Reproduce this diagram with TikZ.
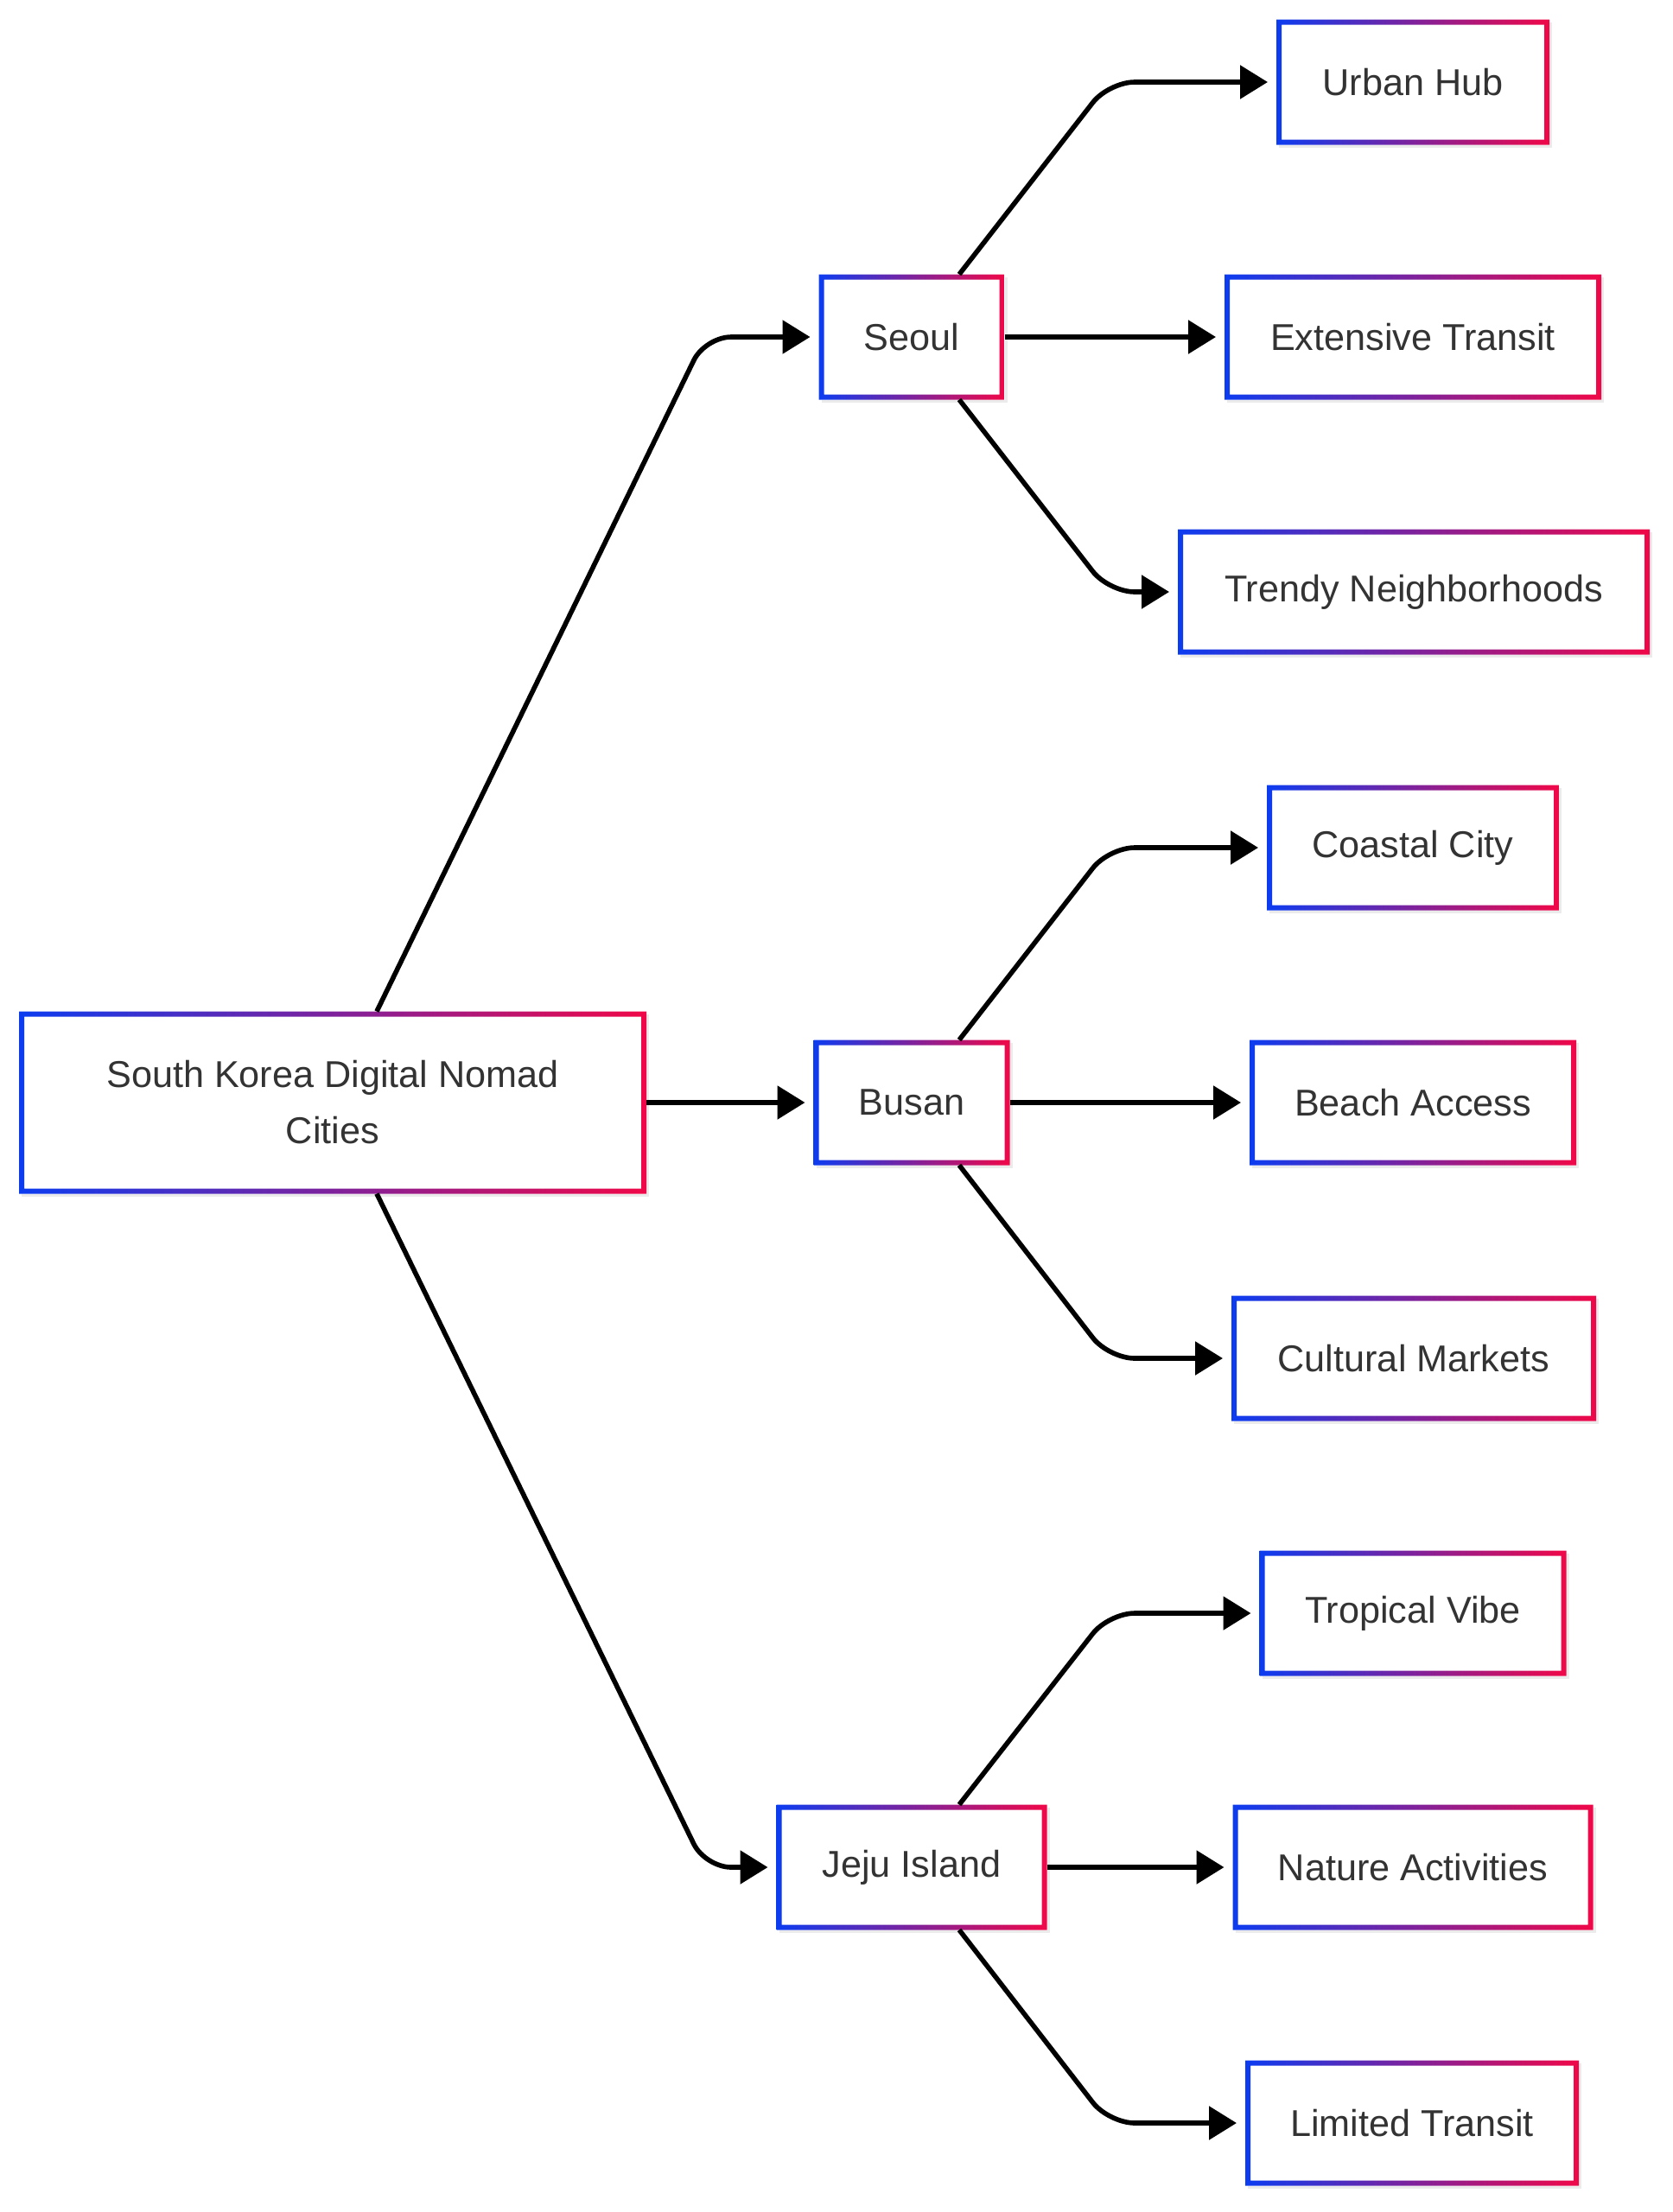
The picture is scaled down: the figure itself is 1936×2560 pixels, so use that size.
\documentclass[tikz,border=0pt]{standalone}
\usepackage{fontspec}
\setmainfont{Liberation Sans}
\usetikzlibrary{arrows.meta,shadows}
\definecolor{gblue}{RGB}{12,60,240}
\definecolor{gred}{RGB}{240,8,72}
\definecolor{txt}{RGB}{51,51,51}
\tikzset{
 box/.style={rectangle, fill=white, draw=none, outer sep=0pt, inner sep=0pt, minimum height=72.5pt, text=txt, font=\fontsize{21.6}{32.5}\selectfont, align=center, drop shadow={shadow xshift=1.5pt, shadow yshift=-1.5pt, opacity=0.08, fill=black}},
 conn/.style={draw=black, line width=2.8pt, -{Triangle[length=16pt,width=19pt]}, shorten >=5pt, rounded corners=15pt},
}
\begin{document}
\begin{tikzpicture}[x=0.5pt,y=-0.5pt]
\useasboundingbox (0,0) rectangle (1936,2560);
\node[box, minimum width=363pt, minimum height=105.5pt] (root) at (385,1276) {South Korea Digital Nomad\\Cities};
\node[box, minimum width=107.5pt] (seoul) at (1055,390) {Seoul};
\node[box, minimum width=113.5pt] (busan) at (1055,1276) {Busan};
\node[box, minimum width=156.5pt] (jeju) at (1055,2161) {Jeju Island};
\node[box, minimum width=158pt] (urban) at (1635,95) {Urban Hub};
\node[box, minimum width=218pt] (ext) at (1635,390) {Extensive Transit};
\node[box, minimum width=273pt] (trendy) at (1636,685) {Trendy Neighborhoods};
\node[box, minimum width=169pt] (coastal) at (1635,981) {Coastal City};
\node[box, minimum width=189pt] (beach) at (1635,1276) {Beach Access};
\node[box, minimum width=211pt] (cultural) at (1636,1572) {Cultural Markets};
\node[box, minimum width=177.5pt] (tropical) at (1635,1867) {Tropical Vibe};
\node[box, minimum width=208.5pt] (nature) at (1635,2161) {Nature Activities};
\node[box, minimum width=193pt] (limited) at (1634,2457) {Limited Transit};
\foreach \n in {root,seoul,busan,jeju,urban,ext,trendy,coastal,beach,cultural,tropical,nature,limited}{
 \shade[left color=gblue, right color=gred, even odd rule] (\n.south west) rectangle (\n.north east) ([shift={(3pt,3pt)}]\n.south west) rectangle ([shift={(-3pt,-3pt)}]\n.north east);
}
\coordinate (c1) at (816,0);
\coordinate (c2) at (1283,0);
\draw[conn] ([xshift=25.5pt]root.north) -- (c1 |- seoul.west) -- (seoul.west);
\draw[conn] (root.east) -- (busan.west);
\draw[conn] ([xshift=25.5pt]root.south) -- (c1 |- jeju.west) -- (jeju.west);
\draw[conn] ([xshift=27.5pt]seoul.north) -- (c2 |- urban.west) -- (urban.west);
\draw[conn] (seoul.east) -- (ext.west);
\draw[conn] ([xshift=27.5pt]seoul.south) -- (c2 |- trendy.west) -- (trendy.west);
\draw[conn] ([xshift=27.5pt]busan.north) -- (c2 |- coastal.west) -- (coastal.west);
\draw[conn] (busan.east) -- (beach.west);
\draw[conn] ([xshift=27.5pt]busan.south) -- (c2 |- cultural.west) -- (cultural.west);
\draw[conn] ([xshift=27.5pt]jeju.north) -- (c2 |- tropical.west) -- (tropical.west);
\draw[conn] (jeju.east) -- (nature.west);
\draw[conn] ([xshift=27.5pt]jeju.south) -- (c2 |- limited.west) -- (limited.west);
\end{tikzpicture}
\end{document}
